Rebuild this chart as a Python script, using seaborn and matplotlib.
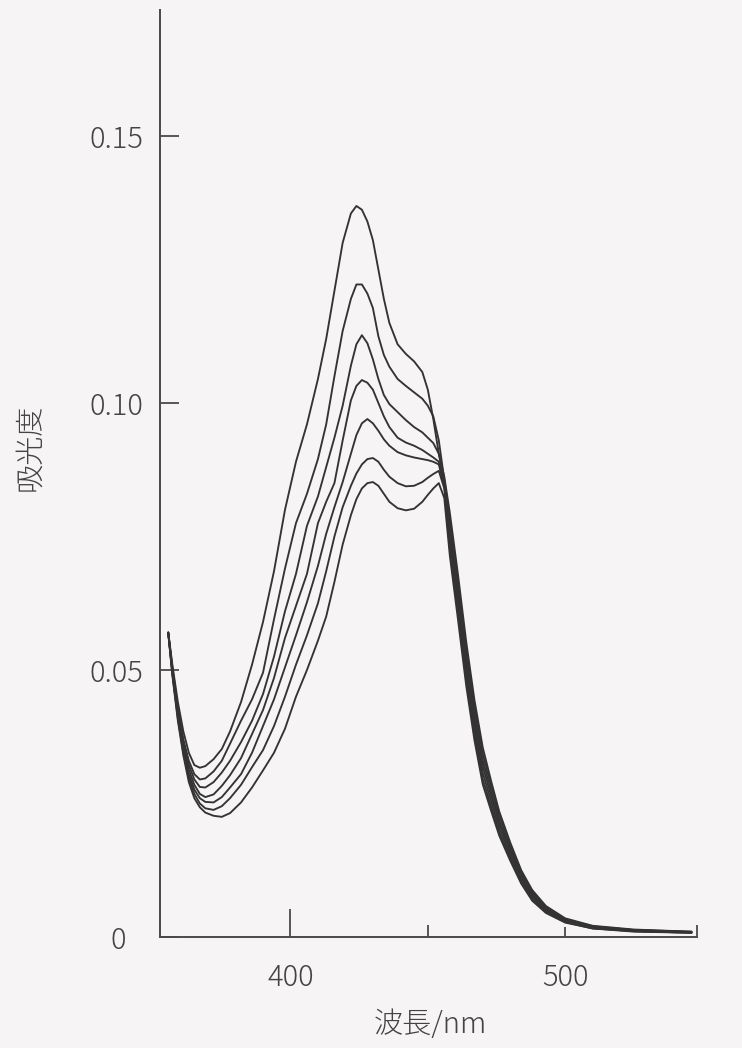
import numpy as np
import pandas as pd
import seaborn as sns
import matplotlib.pyplot as plt

# --- data (7 curves)

wavelength = [355.5, 357, 359, 361, 363, 365, 367, 369, 372, 375, 378, 382, 386, 390, 394,
              398, 402, 406, 410, 413, 416, 419, 422, 424, 426, 428, 430, 432, 434, 436,
              439, 442, 445, 448, 450, 452, 454, 456, 458, 461, 464, 467, 470, 473, 476,
              480, 484, 488, 493, 500, 510, 525, 546]

abs_1 = [.0570, .0510, .0440, .0385, .0345, .0322, .0317, .0320, .0333, .0352, .0385, .0440, .0510, .0590, .0685,
         .0800, .0890, .0960, .1045, .1120, .1210, .1300, .1355, .1369, .1362, .1340, .1305, .1250, .1195, .1150,
         .1110, .1092, .1078, .1058, .1025, .0970, .0905, .0862, .0795, .0678, .0552, .0443, .0355, .0293, .0235,
         .0177, .0125, .0088, .0058, .0035, .0021, .0014, .0010]
abs_2 = [.0570, .0505, .0430, .0370, .0330, .0305, .0295, .0297, .0310, .0330, .0362, .0405, .0445, .0495, .0595,
         .0690, .0775, .0830, .0895, .0960, .1050, .1135, .1195, .1222, .1222, .1205, .1178, .1125, .1090, .1068,
         .1045, .1032, .1020, .1008, .0995, .0975, .0930, .0856, .0782, .0664, .0537, .0430, .0343, .0284, .0228,
         .0171, .0122, .0085, .0056, .0033, .0020, .0013, .0010]
abs_3 = [.0570, .0500, .0425, .0365, .0322, .0295, .0281, .0280, .0290, .0308, .0330, .0365, .0405, .0455, .0525,
         .0610, .0680, .0770, .0825, .0880, .0935, .0995, .1070, .1110, .1127, .1112, .1082, .1045, .1015, .0998,
         .0983, .0968, .0955, .0945, .0935, .0925, .0905, .0851, .0768, .0650, .0523, .0417, .0331, .0274, .0219,
         .0165, .0117, .0081, .0053, .0031, .0019, .0013, .0009]
abs_4 = [.0570, .0498, .0420, .0358, .0313, .0285, .0268, .0262, .0267, .0283, .0303, .0335, .0380, .0425, .0485,
         .0560, .0620, .0680, .0775, .0815, .0850, .0930, .1005, .1032, .1043, .1038, .1025, .1000, .0975, .0955,
         .0935, .0926, .0920, .0912, .0905, .0898, .0890, .0848, .0755, .0637, .0510, .0405, .0320, .0265, .0212,
         .0160, .0113, .0078, .0051, .0030, .0018, .0012, .0009]
abs_5 = [.0570, .0495, .0415, .0352, .0305, .0276, .0260, .0253, .0252, .0262, .0280, .0305, .0345, .0395, .0445,
         .0505, .0565, .0627, .0695, .0755, .0805, .0852, .0905, .0940, .0962, .0970, .0962, .0948, .0932, .0920,
         .0908, .0902, .0898, .0895, .0893, .0890, .0885, .0844, .0741, .0622, .0495, .0392, .0308, .0255, .0204,
         .0154, .0108, .0075, .0049, .0029, .0017, .0011, .0008]
abs_6 = [.0570, .0493, .0410, .0345, .0298, .0268, .0250, .0241, .0238, .0245, .0260, .0285, .0318, .0350, .0395,
         .0450, .0510, .0565, .0625, .0685, .0750, .0805, .0845, .0868, .0885, .0895, .0897, .0890, .0875, .0862,
         .0850, .0844, .0845, .0852, .0860, .0867, .0873, .0840, .0728, .0608, .0482, .0379, .0296, .0245, .0196,
         .0148, .0104, .0071, .0047, .0028, .0016, .0011, .0008]
abs_7 = [.0570, .0490, .0405, .0340, .0290, .0260, .0243, .0233, .0227, .0225, .0232, .0252, .0280, .0312, .0345,
         .0390, .0450, .0500, .0555, .0600, .0665, .0735, .0790, .0820, .0840, .0850, .0852, .0845, .0830, .0815,
         .0803, .0799, .0802, .0815, .0828, .0840, .0850, .0822, .0715, .0594, .0470, .0368, .0286, .0237, .0190,
         .0143, .0100, .0068, .0045, .0027, .0016, .0010, .0008]

curves = [abs_1, abs_2, abs_3, abs_4, abs_5, abs_6, abs_7]

yticks = [0, 0.05, 0.10, 0.15]
ytick_labels = ["0", "0.05", "0.10", "0.15"]
xticks = [400, 500]

df = pd.DataFrame({
    "wl": np.tile(wavelength, len(curves)),
    "A": np.concatenate(curves),
    "run": np.repeat(np.arange(len(curves)), len(wavelength)),
})

sns.set_style("ticks")
plt.rcParams['font.family'] = ['Noto Sans CJK JP', 'DejaVu Sans']
plt.rcParams['font.weight'] = 'light'
plt.rcParams['axes.labelweight'] = 'light'

bg = "#f6f4f4"
ink = "#333333"

fig = plt.figure(figsize=(7.42, 10.48), dpi=100, facecolor=bg)
ax = fig.add_axes([160/742, 1 - 937/1048, 537/742, 927/1048])
ax.set_facecolor(bg)

sns.lineplot(data=df, x="wl", y="A", units="run", estimator=None, sort=False,
             color=ink, linewidth=1.35, ax=ax, legend=False)

ax.set_xlim(352.5, 548)
ax.set_ylim(0, 0.1736)
sns.despine(ax=ax)
for s in ["left", "bottom"]:
    ax.spines[s].set_color("#4a4a4a")
    ax.spines[s].set_linewidth(1.4)

ax.set_xticks(xticks)
ax.set_xticklabels([str(t) for t in xticks])
ax.set_xticks([450, 548], minor=True)
ax.set_yticks(yticks)
ax.set_yticklabels(ytick_labels)
ax.tick_params(axis="both", which="both", direction="in", color="#4a4a4a",
               width=1.3, labelsize=21, labelcolor="#444444")
ax.tick_params(axis="x", which="major", length=7, pad=18)
ax.tick_params(axis="x", which="minor", length=9)
ax.tick_params(axis="y", which="major", length=14, pad=12)
ax.xaxis.get_major_ticks()[0].tick1line.set_markersize(20)
# the zero label sits a bit further left in the original
ax.get_yticklabels()[0].set_x(-0.032)

ax.set_xlabel("波長/nm", fontsize=21, color="#444444", va="center", fontweight="light")
ax.set_ylabel("吸光度", fontsize=21, color="#444444", va="center", fontweight="light")
ax.xaxis.set_label_coords(0.503, -0.095)
ax.yaxis.set_label_coords(-0.242, 0.528)

fig.savefig("out.png", dpi=100, facecolor=bg)
